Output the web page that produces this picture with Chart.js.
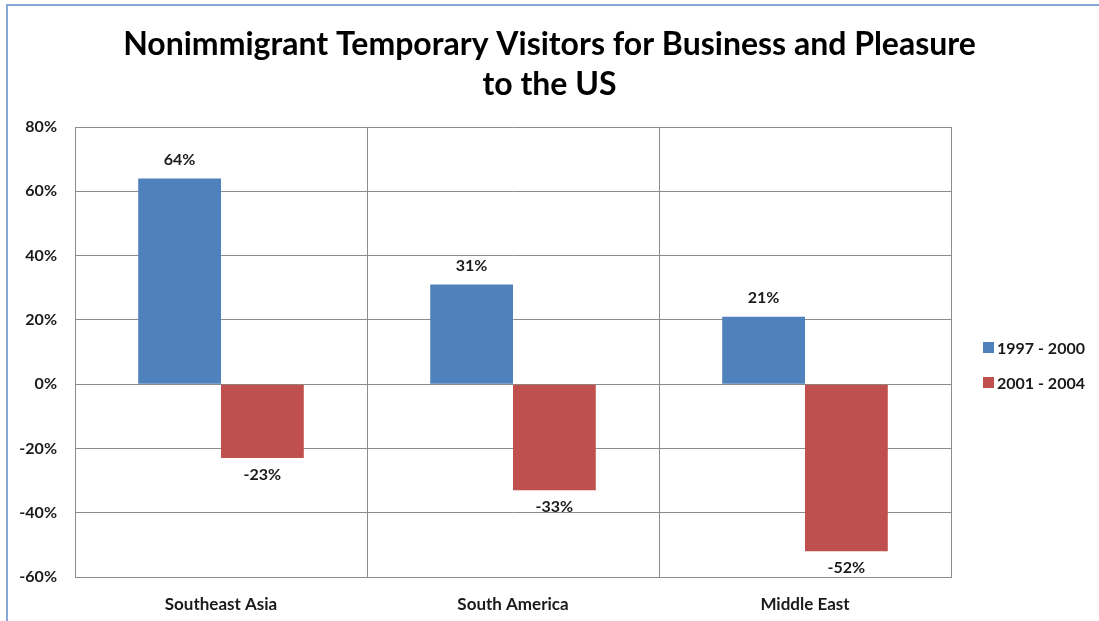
<!DOCTYPE html>
<html>
<head>
<meta charset="utf-8">
<script src="https://cdn.jsdelivr.net/npm/chart.js@4"></script>
<style>
  html, body { margin: 0; padding: 0; background: #ffffff; }
  #wrap { position: relative; width: 1099px; height: 621px; }
  #frame { position: absolute; left: 6px; top: 4px; right: 0; bottom: 0;
           border-left: 2px solid #86a9d6; border-top: 2px solid #86a9d6; pointer-events: none; }
  canvas { display: block; }
</style>
</head>
<body>
<div id="wrap">
  <canvas id="c" width="1099" height="621"></canvas>
  <div id="frame"></div>
</div>
<script>
const categories = ["Southeast Asia", "South America", "Middle East"];
const seriesNames = ["1997 - 2000", "2001 - 2004"];
const values1997_2000 = [64, 31, 21];
const values2001_2004 = [-23, -33, -52];
const yTicks = [-60, -40, -20, 0, 20, 40, 60, 80];
const titleLines = ["Nonimmigrant Temporary Visitors for Business and Pleasure", "to the US"];

const FONT = "Lato, 'Open Sans', sans-serif";
const TEXT = "#1a1a1a";

const labelPlugin = {
  id: 'barLabels',
  afterDatasetsDraw(chart) {
    const ctx = chart.ctx;
    const area = chart.chartArea;
    ctx.save();
    ctx.font = "bold 16px " + FONT;
    ctx.fillStyle = TEXT;
    ctx.textAlign = "center";
    ctx.textBaseline = "middle";
    chart.data.datasets.forEach((ds, di) => {
      const meta = chart.getDatasetMeta(di);
      meta.data.forEach((bar, i) => {
        const v = ds.data[i];
        const y = v >= 0 ? bar.y - 19 : Math.min(bar.y + 17, area.bottom - 9);
        ctx.fillText(Math.round(v) + "%", bar.x, y);
      });
    });
    ctx.restore();
  }
};

const legendPlugin = {
  id: 'sideLegend',
  afterDraw(chart) {
    const ctx = chart.ctx;
    const area = chart.chartArea;
    const x0 = area.right + 32;
    const yMid = (area.top + area.bottom) / 2 + 13;
    const step = 35;
    const n = chart.data.datasets.length;
    ctx.save();
    ctx.font = "bold 16px " + FONT;
    ctx.textAlign = "left";
    ctx.textBaseline = "middle";
    chart.data.datasets.forEach((ds, i) => {
      const y = yMid + (i - (n - 1) / 2) * step;
      ctx.fillStyle = ds.backgroundColor;
      ctx.fillRect(x0, y - 5.5, 11, 11);
      ctx.fillStyle = TEXT;
      ctx.fillText(ds.label, x0 + 14, y + 1);
    });
    ctx.restore();
  }
};

new Chart(document.getElementById('c'), {
  type: 'bar',
  data: {
    labels: categories,
    datasets: [
      { label: seriesNames[0], data: values1997_2000, backgroundColor: '#4F81BD', borderWidth: 0 },
      { label: seriesNames[1], data: values2001_2004, backgroundColor: '#C0504D', borderWidth: 0 }
    ]
  },
  options: {
    responsive: false,
    animation: false,
    devicePixelRatio: 1,
    layout: { padding: { left: 0, right: 0, top: 0, bottom: 0 } },
    datasets: { bar: { categoryPercentage: 0.567, barPercentage: 1.0 } },
    plugins: {
      title: {
        display: true,
        text: titleLines,
        color: '#000000',
        font: { family: FONT, size: 32, weight: 'bold', lineHeight: 1.25 },
        padding: { top: 25, bottom: 22 }
      },
      legend: { display: false },
      tooltip: { enabled: false }
    },
    scales: {
      x: {
        offset: true,
        grid: { display: true, offset: true, color: '#8c8c8c', lineWidth: 1, drawTicks: false },
        border: { display: true, color: '#8c8c8c', width: 1 },
        ticks: { color: TEXT, padding: 17, font: { family: FONT, size: 17, weight: 'bold' } },
        afterFit(scale) { scale.height = 44; }
      },
      y: {
        min: -60,
        max: 80,
        afterBuildTicks(scale) { scale.ticks = yTicks.map(v => ({ value: v })); },
        grid: { color: '#8c8c8c', lineWidth: 1, drawTicks: false },
        border: { display: true, color: '#8c8c8c', width: 1 },
        ticks: {
          color: TEXT,
          padding: 18,
          font: { family: FONT, size: 16, weight: 'bold' },
          callback: v => v + '%'
        },
        afterFit(scale) { scale.width = 75; }
      },
      legendSpace: {
        type: 'linear',
        position: 'right',
        display: true,
        grid: { display: false, drawOnChartArea: false },
        border: { display: false },
        ticks: { display: false },
        afterFit(scale) { scale.width = 148; }
      }
    }
  },
  plugins: [labelPlugin, legendPlugin]
});
</script>
</body>
</html>
